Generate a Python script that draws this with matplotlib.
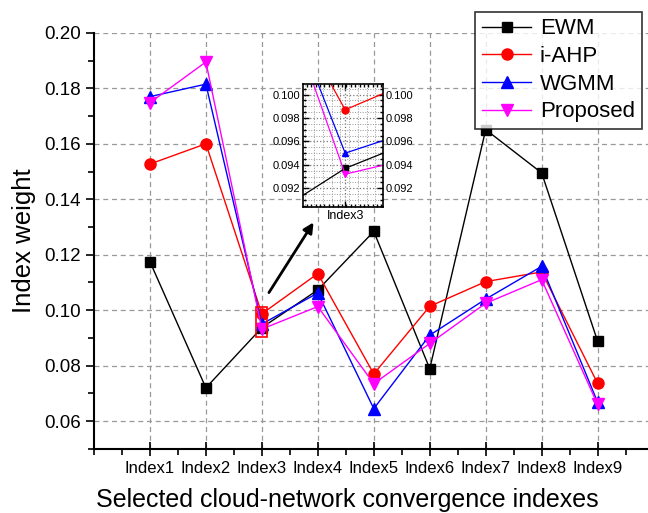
import numpy as np
import matplotlib.pyplot as plt
from matplotlib.ticker import MultipleLocator
from matplotlib.patches import Rectangle

plt.rcParams['font.family'] = ['Liberation Sans', 'DejaVu Sans']

# Index weights per method
labels = ["Index1", "Index2", "Index3", "Index4", "Index5",
          "Index6", "Index7", "Index8", "Index9"]
ewm = [0.1175, 0.0720, 0.0937, 0.1073, 0.1284, 0.0789, 0.1651, 0.1495, 0.0888]
iahp = [0.1527, 0.1600, 0.0987, 0.1132, 0.0770, 0.1014, 0.1103, 0.1138, 0.0736]
wgmm = [0.1770, 0.1815, 0.0950, 0.1062, 0.0645, 0.0910, 0.1040, 0.1158, 0.0668]
proposed = [0.1748, 0.1895, 0.0932, 0.1013, 0.0735, 0.0880, 0.1025, 0.1110, 0.0660]

x = np.arange(1, len(labels) + 1)

series = [
    ("EWM", ewm, "black", "s", 7),
    ("i-AHP", iahp, "red", "o", 8),
    ("WGMM", wgmm, "blue", "^", 8),
    ("Proposed", proposed, "magenta", "v", 8),
]

fig = plt.figure(figsize=(6.48, 5.13), dpi=100)
ax = fig.add_axes([0.145, 0.125, 0.855, 0.811])

for name, vals, col, mk, ms in series:
    ax.plot(x, vals, color=col, marker=mk, markersize=ms, linewidth=1, label=name)

ax.set_xlim(0, 9.9)
ax.set_ylim(0.05, 0.20)
ax.set_xticks(x)
ax.set_xticklabels(labels, fontsize=12)
ax.xaxis.set_minor_locator(MultipleLocator(0.5))
ax.yaxis.set_major_locator(MultipleLocator(0.02))
ax.yaxis.set_minor_locator(MultipleLocator(0.01))
ax.yaxis.set_major_formatter(plt.FormatStrFormatter('%.2f'))
ax.tick_params(axis='y', which='major', direction='out', length=6, width=1.2, labelsize=13.5)
ax.tick_params(axis='y', which='minor', direction='out', length=4, width=1.2)
ax.tick_params(axis='x', which='major', direction='inout', length=10, width=1.2, labelsize=12)
ax.tick_params(axis='x', which='minor', direction='out', length=4, width=1.2)
for s in ['top', 'right']:
    ax.spines[s].set_visible(False)
for s in ['left', 'bottom']:
    ax.spines[s].set_linewidth(1.5)
ax.grid(True, which='major', linestyle=(0, (4, 3)), color='#999999', linewidth=0.9)
ax.set_axisbelow(True)

ax.set_xlabel("Selected cloud-network convergence indexes", fontsize=18)
ax.xaxis.set_label_coords(0.457, -0.095)
ax.set_ylabel("Index weight", fontsize=18.5, labelpad=6)

leg = fig.legend(loc='upper right', bbox_to_anchor=(0.99, 0.977), fontsize=16,
                 frameon=True, fancybox=False, edgecolor='black',
                 handlelength=2.2, borderpad=0.3, labelspacing=0.3,
                 handletextpad=0.4, borderaxespad=0)
leg.get_frame().set_linewidth(1.2)

# zoom box and arrow
ax.add_patch(Rectangle((2.9, 0.0905), 0.2, 0.0105, fill=False,
                       edgecolor='red', linewidth=1.2, zorder=5))
ax.annotate("", xy=(3.95, 0.1325), xytext=(3.1, 0.1055),
            arrowprops=dict(arrowstyle='-|>', color='black', lw=2,
                            mutation_scale=15))

# inset around Index3
ins = fig.add_axes([303 / 648, 1 - 207 / 513, 80 / 648, 123 / 513])
for name, vals, col, mk, ms in series:
    ins.plot(x, vals, color=col, marker=mk, markersize=5, linewidth=0.9)
ins.set_xlim(2.894, 3.095)
ins.set_ylim(0.0904, 0.1009)
ins.set_xticks([3])
ins.set_xticklabels(["Index3"], fontsize=9)
ins.xaxis.set_minor_locator(MultipleLocator(0.011))
ins.yaxis.set_major_locator(MultipleLocator(0.002))
ins.yaxis.set_minor_locator(MultipleLocator(0.0005))
ins.yaxis.set_major_formatter(plt.FormatStrFormatter('%.3f'))
ins.tick_params(axis='both', which='both', direction='in', top=True, right=True,
                labelright=True, labelsize=8, width=1)
ins.tick_params(axis='both', which='major', length=4, pad=2)
ins.tick_params(axis='both', which='minor', length=2)
ins.tick_params(axis='x', labelsize=9)
ins.grid(True, which='major', linestyle=':', color='#777777', linewidth=0.9)
ins.grid(True, which='minor', axis='y', linestyle=':', color='#999999', linewidth=0.7)
for gx in np.arange(2.9, 3.1, 0.022):
    ins.axvline(gx, linestyle=':', color='#999999', linewidth=0.7, zorder=0)
for s in ins.spines.values():
    s.set_linewidth(1.2)

fig.savefig("out.png", dpi=100)
